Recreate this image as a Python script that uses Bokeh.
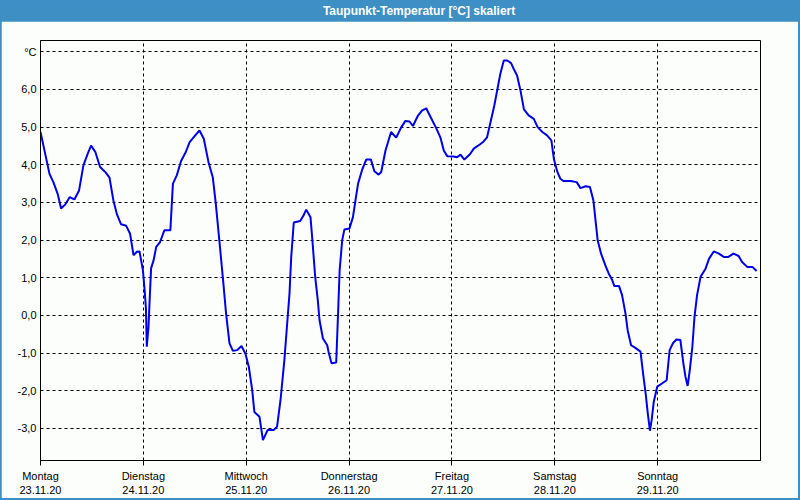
from bokeh.plotting import figure
from bokeh.layouts import column
from bokeh.models import Range1d, FixedTicker
from bokeh.core.properties import value
from bokeh.embed import file_html
from bokeh.resources import INLINE

TITLE = "Taupunkt-Temperatur [°C] skaliert"
day_ticks = [0, 24, 48, 72, 96, 120, 144]
day_labels = ["Montag\n23.11.20", "Dienstag\n24.11.20", "Mittwoch\n25.11.20",
              "Donnerstag\n26.11.20", "Freitag\n27.11.20", "Samstag\n28.11.20",
              "Sonntag\n29.11.20"]
y_ticks = [-3, -2, -1, 0, 1, 2, 3, 4, 5, 6, 7]
y_labels = ["-3,0", "-2,0", "-1,0", "0,0", "1,0", "2,0", "3,0", "4,0", "5,0", "6,0", "°C"]

# hours since Monday 00:00
hours = [
    0, 1.1, 2.1, 3.0, 4.0, 4.8, 5.8, 6.8, 7.9, 9.0, 10.0, 11.0, 11.8, 12.8, 13.9,
    15.1, 16.1, 17.0, 17.8, 18.8, 20.0, 20.9, 21.7, 22.5, 23.1, 23.9,
    24.3, 24.6, 24.8, 25.2, 25.4, 25.8, 26.4, 27.0, 27.9, 28.9, 30.3, 30.9, 31.8,
    32.8, 33.9, 34.8, 36.1, 37.1, 38.1, 39.2, 40.2, 40.9, 41.8, 42.6, 43.3, 44.1,
    44.9, 45.9, 46.9, 47.8,
    48.6, 49.4, 49.9, 51.1, 51.9, 53.0, 54.4, 55.2, 56.0, 56.9, 57.5, 58.1, 58.5,
    59.1, 60.6, 61.4, 62.0, 63.0, 63.5, 64.1, 64.7, 65.1, 65.9, 66.9, 67.2, 67.9,
    69.0, 69.4, 69.8, 70.4, 70.9,
    72.1, 72.9, 73.5, 74.1, 75.0, 76.0, 77.1, 77.9, 78.9, 79.5, 80.5, 81.8, 83.0,
    84.1, 85.1, 86.1, 86.9, 88.0, 89.0, 90.0, 91.1, 92.3, 93.3, 94.1, 94.9,
    96.4, 97.2, 98.0, 98.9, 100.2, 101.1, 102.5, 103.4, 104.2, 105.0, 105.9, 106.7,
    107.3, 108.1, 108.9, 109.8, 110.4, 111.2, 112.0, 112.8, 113.9, 115.1, 116.0,
    117.1, 118.2, 119.2, 119.8,
    120.6, 121.3, 122.0, 123.7, 125.1, 126.0, 127.2, 128.2, 129.0, 129.5, 130.0,
    130.8, 131.8, 132.6, 133.4, 133.9, 135.0, 135.7, 136.5, 137.0, 137.8, 138.8,
    140.0, 140.6, 141.2, 141.7, 142.2, 142.6, 143.1, 143.9,
    145.1, 146.1, 146.8, 147.6, 148.4, 149.3, 150.0, 150.5, 151.0, 151.5, 152.1,
    152.6, 153.2, 154.0, 155.2, 156.0, 157.1, 158.3, 159.5, 160.4, 161.7, 162.9,
    163.7, 164.9, 166.1, 167.1,
]
dewpoint = [
    4.87, 4.29, 3.76, 3.54, 3.23, 2.84, 2.95, 3.14, 3.08, 3.32, 3.98, 4.29, 4.51, 4.34, 3.94,
    3.81, 3.66, 3.06, 2.70, 2.42, 2.38, 2.17, 1.60, 1.69, 1.70, 1.20,
    0.67, 0.19, -0.83, -0.30, 0.23, 1.25, 1.47, 1.82, 1.95, 2.26, 2.26, 3.50, 3.72,
    4.10, 4.34, 4.60, 4.78, 4.91, 4.69, 4.07, 3.67, 2.97, 1.91, 0.94, 0.05, -0.74,
    -0.94, -0.92, -0.81, -1.01,
    -1.36, -1.98, -2.56, -2.69, -3.31, -3.04, -3.04, -2.95, -2.25, -1.19, -0.30, 0.58, 1.55,
    2.47, 2.51, 2.66, 2.81, 2.61, 1.91, 1.02, 0.41, -0.12, -0.61, -0.79, -0.96, -1.27,
    -1.25, -0.04, 1.20, 2.00, 2.28,
    2.31, 2.61, 3.06, 3.50, 3.85, 4.14, 4.14, 3.83, 3.74, 3.81, 4.38, 4.87, 4.72,
    4.98, 5.16, 5.15, 5.03, 5.29, 5.44, 5.50, 5.25, 4.98, 4.73, 4.38, 4.23,
    4.22, 4.20, 4.27, 4.14, 4.28, 4.43, 4.54, 4.62, 4.73, 5.13, 5.58, 6.06,
    6.42, 6.77, 6.77, 6.70, 6.55, 6.37, 5.97, 5.47, 5.31, 5.22, 5.00,
    4.87, 4.78, 4.65, 4.15,
    3.81, 3.63, 3.57, 3.57, 3.54, 3.38, 3.43, 3.41, 3.06, 2.53, 2.00,
    1.64, 1.33, 1.11, 0.94, 0.78, 0.78, 0.54, 0.05, -0.39, -0.79, -0.86,
    -0.96, -1.54, -2.07, -2.60, -3.06, -2.78, -2.29, -1.89,
    -1.80, -1.72, -0.92, -0.73, -0.64, -0.65, -1.27, -1.63, -1.87, -1.45, -0.83,
    -0.04, 0.54, 1.02, 1.25, 1.51, 1.70, 1.64, 1.55, 1.55, 1.64, 1.58,
    1.42, 1.29, 1.29, 1.18,
]
assert len(hours) == len(dewpoint)

BLUE = "#3d8fc4"
BG = "#fbfefb"
FONT = "Liberation Sans"

# title bar
tb = figure(width=800, height=21, x_range=Range1d(0, 1), y_range=Range1d(0, 1),
            toolbar_location=None, output_backend="svg", min_border=0)
tb.axis.visible = False
tb.grid.visible = False
tb.outline_line_color = None
tb.background_fill_color = BLUE
tb.border_fill_color = BLUE
tb.text(x=[0.525], y=[0.5], text=[TITLE], text_color="white", text_font=value(FONT),
        text_font_size="12px", text_font_style="bold", text_align="center",
        text_baseline="middle")

p = figure(width=797, height=477, x_range=Range1d(0, 168), y_range=Range1d(-3.85, 7.3),
           toolbar_location=None, output_backend="svg",
           min_border_left=39, min_border_right=38, min_border_top=19, min_border_bottom=38,
           margin=(0, 2, 2, 1))
p.background_fill_color = BG
p.border_fill_color = BG
p.outline_line_color = "black"
p.outline_line_width = 1

p.line(hours, dewpoint, line_color="#0000e6", line_width=2)

p.xaxis.ticker = FixedTicker(ticks=day_ticks)
p.xaxis.major_label_overrides = dict(zip(day_ticks, day_labels))
p.yaxis.ticker = FixedTicker(ticks=y_ticks)
p.yaxis.major_label_overrides = dict(zip(y_ticks, y_labels))
for ax in (p.xaxis, p.yaxis):
    ax.major_label_text_font = FONT
    ax.major_label_text_font_size = "11px"
    ax.major_label_text_color = "black"
    ax.axis_line_color = "black"
    ax.minor_tick_line_color = None
    ax.major_tick_in = 0
p.xaxis.major_tick_out = 5
p.xaxis.major_tick_line_color = "black"
p.xaxis.major_label_standoff = 4
p.yaxis.major_tick_out = 0
p.yaxis.major_label_standoff = 4

for g in (p.xgrid, p.ygrid):
    g.grid_line_color = "black"
    g.grid_line_dash = "3 3"
    g.grid_line_width = 1

layout = column(tb, p, spacing=0, styles={"background-color": BLUE})
open("out.html", "w").write(file_html(layout, INLINE))
